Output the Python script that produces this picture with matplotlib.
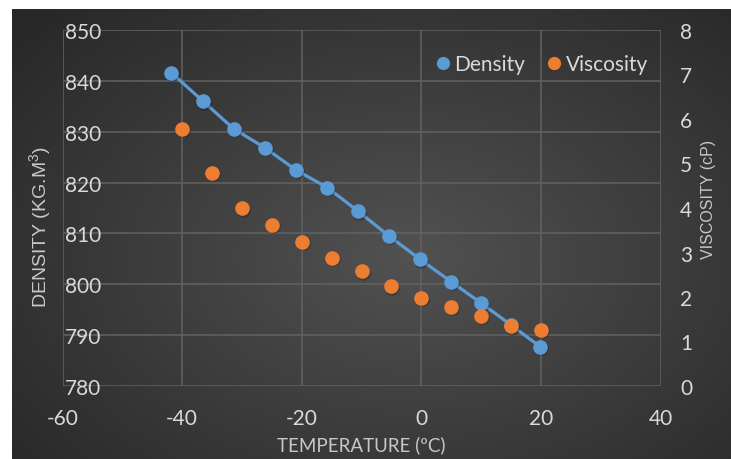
import numpy as np
import matplotlib
matplotlib.use("Agg")
import matplotlib.pyplot as plt
import matplotlib.transforms as mtrans
from matplotlib.lines import Line2D

plt.rcParams["axes.unicode_minus"] = False
plt.rcParams["mathtext.default"] = "regular"

# ---- data ----
density_temp = [-41.8, -36.5, -31.4, -26.1, -21.0, -15.7, -10.6, -5.4, -0.2, 5.0, 10.0, 15.0, 19.9]
density_vals = [841.6, 836.0, 830.6, 826.8, 822.5, 819.0, 814.4, 809.5, 804.9, 800.5, 796.3, 792.0, 787.7]
visc_temp = [-40, -35, -30, -25, -20, -15, -10, -5, 0, 5, 10, 15, 20]
visc_vals = [5.78, 4.79, 3.99, 3.62, 3.24, 2.88, 2.58, 2.24, 1.98, 1.78, 1.58, 1.34, 1.26]
x_ticks = [-60, -40, -20, 0, 20, 40]
y_ticks = [780, 790, 800, 810, 820, 830, 840, 850]
y2_ticks = [0, 1, 2, 3, 4, 5, 6, 7, 8]

BLUE = "#5B9BD5"
ORANGE = "#ED7D31"
TICKC = "#d9d9d9"
TITLEC = "#c8c8c8"
GRIDC = "#626262"

W, H = 731, 460
fig = plt.figure(figsize=(W / 100, H / 100), dpi=100, facecolor="white")

# dark radial-gradient background
bg = fig.add_axes([12 / W, 0, 1 - 12 / W, 1 - 10 / H])
bg.set_axis_off()
yy, xx = np.mgrid[0:1:300j, 0:1:450j]
r = np.sqrt(((xx - 0.55) / 0.75) ** 2 + ((yy - 0.55) / 0.8) ** 2)
g = np.clip(0.32 - 0.17 * r, 0.16, 0.32)
bg.imshow(np.dstack([g, g, g]), aspect="auto", extent=[0, 1, 0, 1], interpolation="bilinear")

L, R, T, B = 62.5, 660.5, 31, 387
ax = fig.add_axes([L / W, 1 - B / H, (R - L) / W, (B - T) / H])
ax.patch.set_alpha(0)
ax2 = ax.twinx()
ax2.patch.set_alpha(0)

ax.set_xlim(-60, 40)
ax.set_ylim(780, 850)
ax2.set_ylim(0, 8)
ax.set_xticks(x_ticks)
ax.set_yticks(y_ticks)
ax2.set_yticks(y2_ticks)
ax.grid(True, color=GRIDC, lw=1.1)
ax.set_axisbelow(True)
for a in (ax, ax2):
    for s in a.spines.values():
        s.set_visible(False)

ax.tick_params(axis="x", length=0, pad=16, labelcolor=TICKC, labelsize=15)
ax.tick_params(axis="y", length=0, pad=-1.5, labelcolor=TICKC, labelsize=15)
ax2.tick_params(axis="y", length=0, pad=14, labelcolor=TICKC, labelsize=15)
for lab in ax.get_xticklabels() + ax.get_yticklabels() + ax2.get_yticklabels():
    lab.set_fontfamily("Lato")
for lab in ax.get_yticklabels():
    lab.set_horizontalalignment("left")

shadow = mtrans.ScaledTranslation(1 / 100, -1.5 / 100, fig.dpi_scale_trans)
ax.plot(density_temp, density_vals, color=BLUE, lw=2.3, zorder=3)
ax.plot(density_temp, density_vals, "o", ms=10.5, color="#1e1e1e", alpha=0.35,
        mec="none", zorder=3, transform=ax.transData + shadow)
ax.plot(density_temp, density_vals, "o", ms=10.5, color=BLUE, mec="none", zorder=4)
ax2.plot(visc_temp, visc_vals, "o", ms=10.5, color="#1e1e1e", alpha=0.35,
         mec="none", zorder=3, transform=ax2.transData + shadow)
ax2.plot(visc_temp, visc_vals, "o", ms=10.5, color=ORANGE, mec="none", zorder=4)

handles = [Line2D([], [], ls="none", marker="o", ms=9.5, color=BLUE, mec="none"),
           Line2D([], [], ls="none", marker="o", ms=9.5, color=ORANGE, mec="none")]
leg = ax2.legend(handles, ["Density", "Viscosity"], ncol=2, frameon=False,
                 loc="upper right", bbox_to_anchor=(1.0, 0.968),
                 prop=dict(family="Lato", size=15), handletextpad=0.05,
                 columnspacing=0.9, handlelength=1.0, borderaxespad=0.2)
for t in leg.get_texts():
    t.set_color(TICKC)

fig.text((L + R) / 2 / W, 1 - 445 / H, "TEMPERATURE (ºC)", ha="center", va="center",
         color=TITLEC, family="Lato", size=13.5)
fig.text(40 / W, 1 - 227 / H, "DENSITY (KG.M$^{3}$)", ha="center", va="center",
         rotation=90, color=TITLEC, family="Liberation Sans", size=14)
fig.text(709 / W, 1 - 199 / H, "VISCOSITY (cP)", ha="center", va="center",
         rotation=90, color=TITLEC, family="Liberation Sans", size=11.5)

fig.savefig("out.png", dpi=100, facecolor="white")
